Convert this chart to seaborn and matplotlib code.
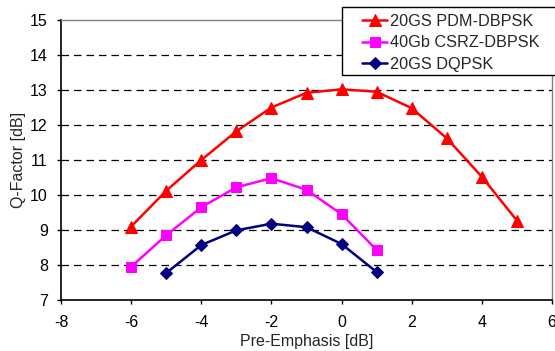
import matplotlib
matplotlib.use("Agg")
import matplotlib.pyplot as plt
from matplotlib.patches import Rectangle
import seaborn as sns
import pandas as pd

x_red = [-6, -5, -4, -3, -2, -1, 0, 1, 2, 3, 4, 5]
y_red = [9.1, 10.12, 11.0, 11.82, 12.5, 12.92, 13.02, 12.95, 12.48, 11.62, 10.52, 9.27]
x_mag = [-6, -5, -4, -3, -2, -1, 0, 1]
y_mag = [7.95, 8.85, 9.65, 10.22, 10.48, 10.15, 9.45, 8.43]
x_nav = [-5, -4, -3, -2, -1, 0, 1]
y_nav = [7.77, 8.57, 8.99, 9.18, 9.08, 8.6, 7.8]
labels = ["20GS PDM-DBPSK", "40Gb CSRZ-DBPSK", "20GS DQPSK"]
xticks = [-8, -6, -4, -2, 0, 2, 4, 6]
yticks = [7, 8, 9, 10, 11, 12, 13, 14, 15]

sns.set_style("white")
plt.rcParams['font.family'] = ['Liberation Sans', 'DejaVu Sans']

W, H = 555, 351
fig = plt.figure(figsize=(W / 100, H / 100), dpi=100)
ax = fig.add_axes([61 / W, 1 - 300 / H, 491 / W, 280 / H])

series = [
    (x_red, y_red, labels[0], "#ff0000", "^", 9),
    (x_mag, y_mag, labels[1], "#ff00ff", "s", 7),
    (x_nav, y_nav, labels[2], "#000080", "D", 6),
]
for xs, ys, lab, col, mk, ms in series:
    df = pd.DataFrame({"x": xs, "y": ys})
    sns.lineplot(data=df, x="x", y="y", ax=ax, color=col, marker=mk,
                 markersize=ms, markeredgecolor=col, linewidth=1.8, label=lab)

ax.set_xlim(-8, 6)
ax.set_ylim(7, 15)
ax.set_xticks(xticks)
ax.set_yticks(yticks)
ax.set_xticklabels([str(t) for t in xticks])
ax.set_yticklabels([str(t) for t in yticks])
for yv in range(8, 15):
    ax.axhline(yv, color="black", linestyle=(0, (6, 4)), linewidth=0.9, zorder=0)

ax.set_xlabel("Pre-Emphasis [dB]", fontsize=11.5, labelpad=3)
ax.set_ylabel("Q-Factor [dB]", fontsize=11.5, labelpad=3)
ax.tick_params(axis="x", labelsize=11.5, length=3, width=1, pad=8,
               direction="out", colors="black", bottom=True)
ax.tick_params(axis="y", labelsize=11.5, length=3, width=1, pad=6.5,
               direction="out", colors="black", left=True)
for s in ["left", "bottom"]:
    ax.spines[s].set_color("black")
    ax.spines[s].set_linewidth(1.2)
for s in ["top", "right"]:
    ax.spines[s].set_color("#808080")
    ax.spines[s].set_linewidth(1.0)

leg = ax.legend(loc="upper left", bbox_to_anchor=(362 / W, 1 - 13.5 / H),
                bbox_transform=fig.transFigure, fontsize=11.7,
                frameon=False, handlelength=1.55, handletextpad=0.2,
                borderpad=0, labelspacing=0.42, borderaxespad=0)
frame = Rectangle((341.5 / W, 1 - 75 / H), 220 / W, 68 / H,
                  transform=fig.transFigure, facecolor="white",
                  edgecolor="black", linewidth=1.0, zorder=4)
fig.patches.append(frame)
leg.set_zorder(5)
leg.remove()
fig.legends.append(leg)
leg.set_figure(fig)

fig.savefig("out.png", dpi=100)
